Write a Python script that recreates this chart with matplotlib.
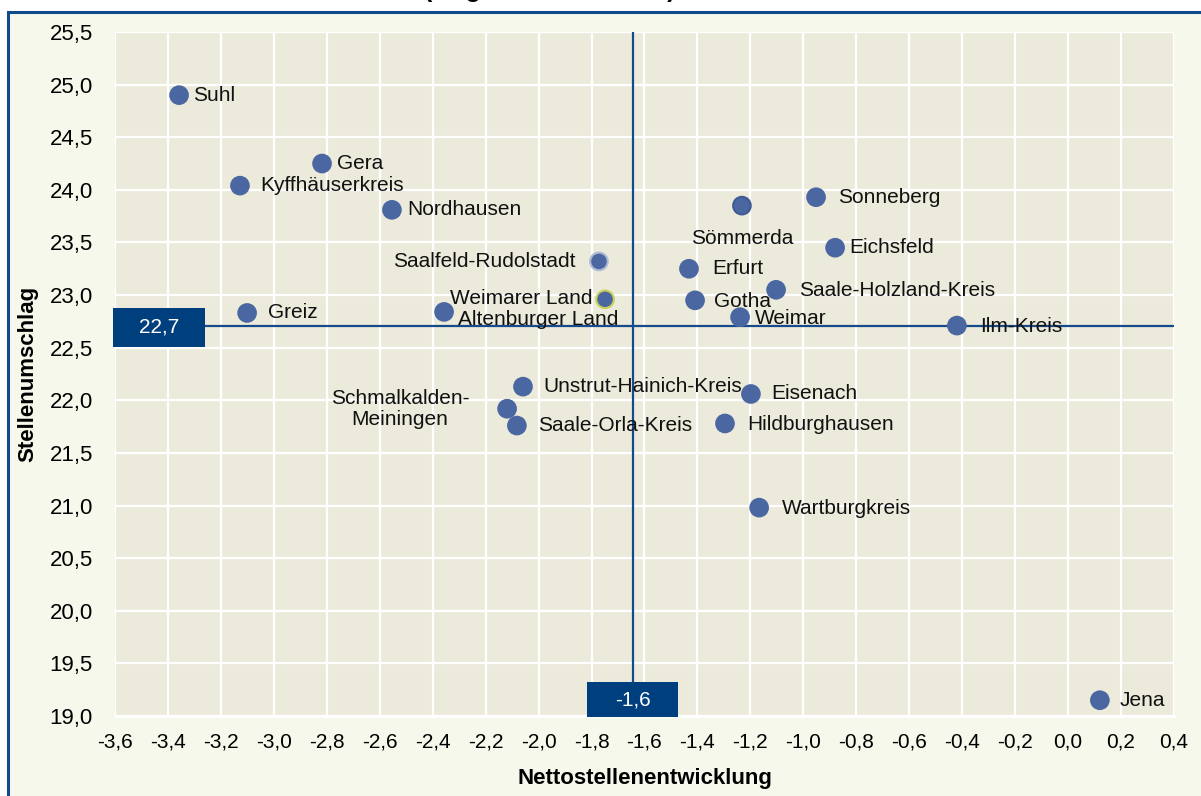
import matplotlib
matplotlib.use("Agg")
import matplotlib.pyplot as plt
from matplotlib.patches import Rectangle
from matplotlib.ticker import FuncFormatter, MultipleLocator
import numpy as np

# Daten: Nettostellenentwicklung (x) und Stellenumschlag (y) je Kreis
kreise = ['Suhl', 'Gera', 'Kyffhäuserkreis', 'Nordhausen', 'Saalfeld-Rudolstadt',
          'Weimarer Land', 'Greiz', 'Altenburger Land', 'Sömmerda', 'Sonneberg',
          'Eichsfeld', 'Erfurt', 'Gotha', 'Saale-Holzland-Kreis', 'Weimar',
          'Ilm-Kreis', 'Unstrut-Hainich-Kreis', 'Schmalkalden-\nMeiningen',
          'Saale-Orla-Kreis', 'Eisenach', 'Hildburghausen', 'Wartburgkreis', 'Jena']
netto = [-3.358, -2.818, -3.128, -2.554, -1.772,
         -1.749, -3.101, -2.357, -1.232, -0.952,
         -0.880, -1.432, -1.409, -1.103, -1.239,
         -0.420, -2.059, -2.119,
         -2.082, -1.198, -1.296, -1.167, 0.120]
umschlag = [24.90, 24.25, 24.04, 23.81, 23.32,
            22.96, 22.83, 22.84, 23.85, 23.93,
            23.45, 23.25, 22.95, 23.05, 22.79,
            22.71, 22.13, 21.92,
            21.76, 22.06, 21.78, 20.98, 19.15]
mittel_x = -1.645
mittel_y = 22.71

# Beschriftungsversatz in Pixeln (dx, dy, Ausrichtung)
versatz = {
    'Suhl': (14, 0, 'left'), 'Gera': (15, 0, 'left'),
    'Kyffhäuserkreis': (20, 0, 'left'), 'Nordhausen': (15, 0, 'left'),
    'Saalfeld-Rudolstadt': (-23, 0, 'right'), 'Weimarer Land': (-13, 1, 'right'),
    'Greiz': (21, 0, 'left'), 'Altenburger Land': (14, -8, 'left'),
    'Sömmerda': (0, -33, 'center'), 'Sonneberg': (22, 0, 'left'),
    'Eichsfeld': (14, 0, 'left'), 'Erfurt': (23, 0, 'left'),
    'Gotha': (19, -1, 'left'), 'Saale-Holzland-Kreis': (23, -1, 'left'),
    'Weimar': (15, -1, 'left'), 'Ilm-Kreis': (23, -1, 'left'),
    'Unstrut-Hainich-Kreis': (20, 0, 'left'), 'Schmalkalden-\nMeiningen': (-107, 0, 'center'),
    'Saale-Orla-Kreis': (21, 0, 'left'), 'Eisenach': (20, 0, 'left'),
    'Hildburghausen': (22, -1, 'left'), 'Wartburgkreis': (23, -1, 'left'),
    'Jena': (20, 0, 'left'),
}
rand = {'Saalfeld-Rudolstadt': '#AEB9D4', 'Weimarer Land': '#C8CF5A', 'Sömmerda': '#3E5B95'}

PUNKT = '#4A67A1'
NAVY = '#003F7E'
LINIE = '#144B8C'

plt.rcParams['font.family'] = ['Liberation Sans', 'DejaVu Sans']

fig = plt.figure(figsize=(12.01, 7.96), dpi=100)
fig.patch.set_facecolor('white')
W, H = 1201, 796

# Diagrammfläche mit Rahmen (rechts und unten abgeschnitten)
rahmen = Rectangle((8 / W, -0.05), 1.05, 1 - 12 / H + 0.05,
                   transform=fig.transFigure, facecolor='#F7F8EC',
                   edgecolor='#0E4A8C', linewidth=2.2, zorder=-10)
fig.add_artist(rahmen)
fig.text(550 / W, 1 + 2.5 / H, '(Angaben in Prozent)', ha='center', va='baseline',
         fontsize=18, fontweight='bold')

ax = fig.add_axes([115 / W, 1 - 716 / H, (1174 - 115) / W, (716 - 32) / H])
ax.set_facecolor('#ECEADA')
ax.set_xlim(-3.6, 0.4)
ax.set_ylim(19.0, 25.5)
ax.xaxis.set_major_locator(MultipleLocator(0.2))
ax.yaxis.set_major_locator(MultipleLocator(0.5))
komma = FuncFormatter(lambda v, p: f'{v:.1f}'.replace('.', ',').replace('-0,0', '0,0'))
ax.xaxis.set_major_formatter(komma)
ax.yaxis.set_major_formatter(komma)
ax.grid(True, color='white', linewidth=1.6)
ax.set_axisbelow(True)
for s in ['top', 'right', 'left']:
    ax.spines[s].set_visible(False)
ax.spines['bottom'].set_color('white')
ax.spines['bottom'].set_linewidth(2)
ax.tick_params(length=0)
ax.tick_params(axis='x', labelsize=15, pad=12)
ax.tick_params(axis='y', labelsize=16, pad=16)

ax.axvline(mittel_x, color=LINIE, linewidth=1.6, zorder=2)
ax.axhline(mittel_y, color=LINIE, linewidth=1.6, zorder=2)

kanten = [rand.get(k, PUNKT) for k in kreise]
ax.scatter(netto, umschlag, s=160, color=PUNKT, edgecolors=kanten, linewidths=1.5, zorder=3)

for k, x, y in zip(kreise, netto, umschlag):
    dx, dy, ha = versatz[k]
    ax.annotate(k, (x, y), xytext=(dx, dy), textcoords='offset pixels',
                ha=ha, va='center', fontsize=15, color='#111111', zorder=4,
                linespacing=1.15)

# Kästen mit Mittelwerten
px_x = (1174 - 115) / (0.4 - -3.6)
px_y = (716 - 32) / (25.5 - 19.0)
bw, bh = 92 / px_x, 39 / px_y
ax.add_patch(Rectangle((-3.6 - 2 / px_x, mittel_y - bh / 2 - 1.5 / px_y), bw, bh,
                       facecolor=NAVY, edgecolor='none', zorder=5, clip_on=False))
ax.text(-3.6 - 2 / px_x + bw / 2, mittel_y - 1.5 / px_y, f'{mittel_y:.1f}'.replace('.', ','),
        color='white', fontsize=15, ha='center', va='center', zorder=6)
bw2, bh2 = 91 / px_x, 35 / px_y
ax.add_patch(Rectangle((mittel_x - bw2 / 2, 19.0 - 1 / px_y), bw2, bh2,
                       facecolor=NAVY, edgecolor='none', zorder=5, clip_on=False))
ax.text(mittel_x, 19.0 - 1 / px_y + bh2 / 2, f'{mittel_x:.1f}'.replace('.', ','),
        color='white', fontsize=15, ha='center', va='center', zorder=6)

ax.set_xlabel('Nettostellenentwicklung', fontsize=16, fontweight='bold', labelpad=12)
ax.set_ylabel('Stellenumschlag', fontsize=16, fontweight='bold', labelpad=8)

fig.savefig('out.png', dpi=100)
